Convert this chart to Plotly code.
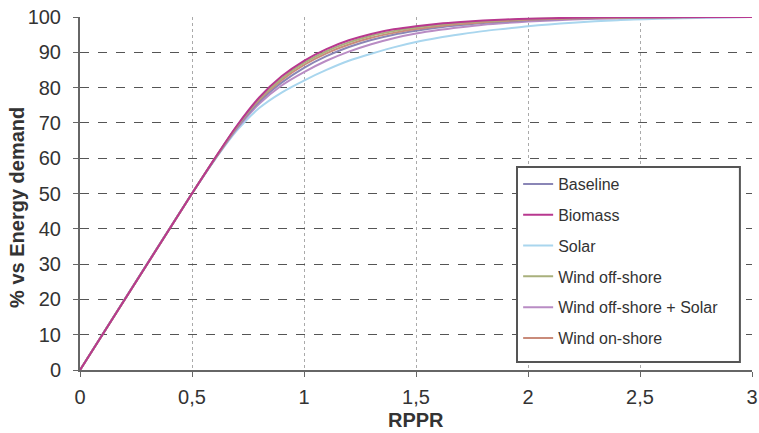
import plotly.graph_objects as go

rppr = [0, 0.5, 0.6, 0.7, 0.8, 0.9, 1.0, 1.1, 1.2, 1.3, 1.4, 1.5, 1.6, 1.7, 1.8, 1.9, 2.0, 2.2, 2.4, 2.6, 2.8, 3.0]

baseline = [0, 50, 59.6, 68.6, 76.0, 81.4, 85.6, 88.9, 91.5, 93.5, 95.0, 96.1, 97.0, 97.7, 98.3, 98.7, 99.1, 99.5, 99.75, 99.9, 99.97, 100]
biomass = [0, 50, 59.8, 69.2, 77.2, 83.2, 87.6, 90.9, 93.4, 95.2, 96.5, 97.4, 98.1, 98.6, 99.0, 99.3, 99.5, 99.8, 99.9, 99.96, 99.99, 100]
solar = [0, 50, 59.4, 67.8, 74.2, 78.6, 82.0, 85.0, 87.6, 89.6, 91.4, 92.9, 94.1, 95.1, 96.0, 96.7, 97.4, 98.4, 99.1, 99.5, 99.8, 100]
wind_off = [0, 50, 59.7, 69.0, 76.8, 82.6, 87.0, 90.3, 92.8, 94.7, 96.0, 97.0, 97.8, 98.4, 98.8, 99.1, 99.4, 99.7, 99.85, 99.95, 99.99, 100]
wind_off_solar = [0, 50, 59.5, 68.3, 75.4, 80.6, 84.4, 87.6, 90.2, 92.3, 94.0, 95.3, 96.3, 97.1, 97.8, 98.3, 98.7, 99.3, 99.65, 99.85, 99.95, 100]
wind_on = [0, 50, 59.7, 68.9, 76.5, 82.1, 86.4, 89.7, 92.2, 94.1, 95.5, 96.6, 97.4, 98.0, 98.5, 98.9, 99.2, 99.6, 99.8, 99.93, 99.98, 100]

series = [
    ("Solar", solar, "#a9d6ee", 3),
    ("Wind off-shore + Solar", wind_off_solar, "#b98cc4", 5),
    ("Baseline", baseline, "#8a86b6", 1),
    ("Wind on-shore", wind_on, "#c98b7a", 6),
    ("Wind off-shore", wind_off, "#a9b07c", 4),
    ("Biomass", biomass, "#b8388f", 2),
]

x_ticks = [0, 0.5, 1, 1.5, 2, 2.5, 3]
y_ticks = [0, 10, 20, 30, 40, 50, 60, 70, 80, 90, 100]
x_title = "RPPR"
y_title = "% vs Energy demand"

fig = go.Figure()
for name, vals, color, rank in series:
    fig.add_trace(go.Scatter(
        x=rppr, y=vals, name=name, mode="lines",
        line=dict(color=color, width=2, shape="spline", smoothing=0.8),
        legendrank=rank, legendgroup=name,
    ))

font_main = "Liberation Sans, Arial, sans-serif"

fig.update_layout(
    width=759, height=433,
    margin=dict(l=80, r=7, t=17, b=63),
    paper_bgcolor="white", plot_bgcolor="white",
    separators=", ",
    font=dict(family=font_main, size=20, color="#333"),
    showlegend=True,
    legend=dict(
        x=0.652, y=0.575, xanchor="left", yanchor="top",
        bgcolor="rgba(0,0,0,0)", borderwidth=0,
        font=dict(size=16, color="#333"),
        tracegroupgap=7,
        itemwidth=30,
    ),
    shapes=[
        dict(type="rect", xref="paper", yref="paper",
             x0=0.6503, x1=0.982, y0=0.0227, y1=0.575,
             fillcolor="white", line=dict(color="#555", width=2), layer="above"),
    ],
    xaxis=dict(
        range=[0, 3], tickvals=x_ticks,
        showline=True, linecolor="#666", linewidth=2,
        ticks="outside", ticklen=5, tickcolor="#666",
        showgrid=True, gridcolor="#aaa", griddash="dot", gridwidth=1,
        zeroline=False, automargin=False,
        ticklabelstandoff=3,
    ),
    yaxis=dict(
        range=[0, 100], tickvals=y_ticks,
        showline=True, linecolor="#666", linewidth=2,
        ticks="outside", ticklen=5, tickcolor="#666",
        showgrid=True, gridcolor="#555", griddash="dash", gridwidth=1,
        zeroline=False, automargin=False,
        ticklabelstandoff=8,
    ),
    annotations=[
        dict(text="<b>" + x_title + "</b>", xref="paper", yref="paper",
             x=0.5, y=-0.1416, xanchor="center", yanchor="middle",
             showarrow=False, font=dict(size=20, color="#333")),
        dict(text="<b>" + y_title + "</b>", xref="paper", yref="paper",
             x=-0.0938, y=0.462, xanchor="center", yanchor="middle",
             textangle=-90, showarrow=False, font=dict(size=20, color="#333")),
    ],
)

fig.write_html("out.html", config={"displayModeBar": False},
               post_script="document.body.style.margin='0';document.body.style.padding='0';")
